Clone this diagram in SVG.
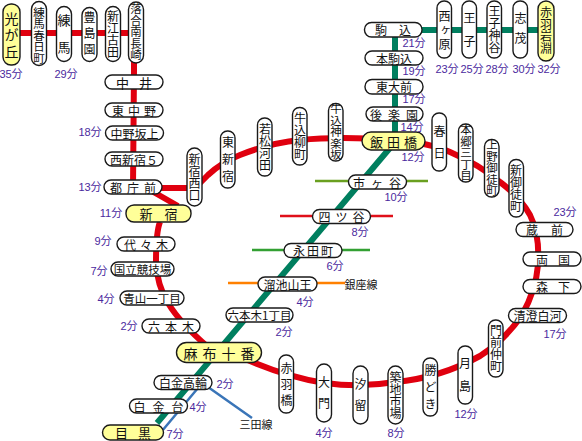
<svg xmlns="http://www.w3.org/2000/svg" width="582" height="441" viewBox="0 0 582 441">
<style>
.p{fill:#fff;stroke:#1a1a1a;stroke-width:1.4}
.y{fill:#ffff99;stroke:#1a1a1a;stroke-width:1.4}
text{font-family:"Noto Sans CJK JP","Liberation Sans",sans-serif;fill:#111;text-anchor:middle;dominant-baseline:central}
.v{writing-mode:vertical-rl;text-orientation:upright;font-size:12px}
.h{font-size:12px}
.t{font-family:"Liberation Sans","Noto Sans CJK JP",sans-serif;font-size:11px;fill:#4b2a9e}
.l{fill:none;stroke-linejoin:round}
</style>
<rect width="582" height="441" fill="#fff"/>
<g id="connectors">
<path class="l" stroke="#e0000f" stroke-width="6" d="M12 33H134V70L133 188H195L208 175Q222 162 240 155Q270 143 300 140Q340 136 395 140Q430 143 450 152Q480 165 500 182Q520 197 530 215Q540 235 538 265Q536 290 522 315Q505 340 480 356Q440 378 395 382Q360 388 325 383Q280 376 230 352M150 190L178 206M160 222Q156 232 156 262Q157 285 168 303Q180 323 208 347"/>
<path class="l" stroke="#007f5f" stroke-width="6" d="M395 30H545M395 30V142L157 423"/>
<path class="l" stroke="#6aa020" stroke-width="2.5" d="M315 181H428"/>
<path class="l" stroke="#e0101a" stroke-width="2.5" d="M280 216H393"/>
<path class="l" stroke="#33a033" stroke-width="2.5" d="M252 250H370"/>
<path class="l" stroke="#ff8000" stroke-width="2.5" d="M228 283H345"/>
<path class="l" stroke="#3a75b8" stroke-width="2.5" d="M198 388L162 431M208 387L252 418"/>
</g>
<g id="n01"><rect class="y" x="3" y="4" width="17" height="61" rx="8"/><text class="v" style="font-size:14px;letter-spacing:2.5px" x="11.5" y="36">光が丘</text></g>
<g id="n02"><rect class="p" x="31.500" y="1.500" width="15" height="64" rx="7.500"/><text class="v" style="font-size:11.500px" x="39" y="35.500">練馬春日町</text></g>
<g id="n03"><rect class="p" x="56.500" y="6.500" width="15" height="55" rx="7.500"/><text class="v" style="font-size:13px;letter-spacing:14px" x="64" y="41">練馬</text></g>
<g id="n04"><rect class="p" x="82" y="7.500" width="15" height="54" rx="7.500"/><text class="v" style="letter-spacing:4px" x="89.500" y="35">豊島園</text></g>
<g id="n05"><rect class="p" x="105.500" y="6.500" width="15" height="55" rx="7.500"/><text class="v" x="113" y="34.500">新江古田</text></g>
<g id="n06"><rect class="p" x="128.500" y="2" width="15" height="61" rx="7.500"/><text class="v" style="font-size:11.500px" x="136" y="32">落合南長崎</text></g>
<g id="n07"><rect class="p" x="105" y="75" width="58" height="14" rx="7"/><text class="h" style="font-size:13px;letter-spacing:10px" x="139" y="82">中井</text></g>
<g id="n08"><rect class="p" x="105" y="103" width="58" height="14" rx="7"/><text class="h" style="letter-spacing:4px" x="136" y="110">東中野</text></g>
<g id="n09"><rect class="p" x="105.500" y="126" width="58" height="14" rx="7"/><text class="h" x="134.500" y="133">中野坂上</text></g>
<g id="n10"><rect class="p" x="105" y="152" width="58" height="14" rx="7"/><text class="h" x="134" y="159">西新宿５</text></g>
<g id="n11"><rect class="p" x="104" y="180" width="58" height="14" rx="7"/><text class="h" style="letter-spacing:5px" x="135.500" y="187">都庁前</text></g>
<g id="n12"><rect class="y" x="126" y="205" width="65" height="17" rx="8"/><text class="h" style="font-size:13px;letter-spacing:12px" x="164.500" y="213.500">新宿</text></g>
<g id="n13"><rect class="p" x="117" y="237" width="58" height="14" rx="7"/><text class="h" style="letter-spacing:4px" x="148" y="244">代々木</text></g>
<g id="n14"><rect class="p" x="111" y="262" width="63" height="14" rx="7"/><text class="h" style="font-size:11.500px" x="142.500" y="269">国立競技場</text></g>
<g id="n15"><rect class="p" x="120" y="291" width="64" height="14" rx="7"/><text class="h" style="font-size:11.500px" x="152" y="298">青山一丁目</text></g>
<g id="n16"><rect class="p" x="142" y="319" width="58" height="14" rx="7"/><text class="h" style="letter-spacing:5px" x="173.500" y="326">六本木</text></g>
<g id="n17"><rect class="y" x="176.500" y="342.500" width="85" height="20" rx="10"/><text class="h" style="font-size:14px;letter-spacing:5px" x="221.500" y="353">麻布十番</text></g>
<g id="n18"><rect class="p" x="154" y="375.500" width="58" height="14" rx="7"/><text class="h" x="183" y="382.500">白金高輪</text></g>
<g id="n19"><rect class="p" x="129.500" y="399" width="58" height="14" rx="7"/><text class="h" style="letter-spacing:7px" x="162" y="406">白金台</text></g>
<g id="n20"><rect class="y" x="102.500" y="425" width="61" height="15" rx="7.500"/><text class="h" style="font-size:13px;letter-spacing:10px" x="138" y="432.500">目黒</text></g>
<g id="n21"><rect class="p" x="226" y="308" width="67" height="14" rx="7"/><text class="h" style="font-size:11.500px" x="259.500" y="315">六本木1丁目</text></g>
<g id="n22"><rect class="p" x="279" y="355" width="14.500" height="58" rx="7"/><text class="v" style="letter-spacing:4px" x="286.500" y="386">赤羽橋</text></g>
<g id="n23"><rect class="p" x="316.500" y="364" width="15" height="58" rx="7.500"/><text class="v" style="letter-spacing:9px" x="324" y="397">大門</text></g>
<g id="n24"><rect class="p" x="353" y="366" width="15" height="58" rx="7.500"/><text class="v" style="letter-spacing:9px" x="360.500" y="399">汐留</text></g>
<g id="n25"><rect class="p" x="388" y="366" width="15" height="58" rx="7.500"/><text class="v" x="395.500" y="395">築地市場</text></g>
<g id="n26"><rect class="p" x="423" y="358" width="14.500" height="58" rx="7"/><text class="v" style="letter-spacing:5px" x="430.500" y="389.500">勝どき</text></g>
<g id="n27"><rect class="p" x="458" y="346" width="14.500" height="58" rx="7"/><text class="v" style="letter-spacing:11px" x="465" y="380.500">月島</text></g>
<g id="n28"><rect class="p" x="488.500" y="320" width="14.500" height="57" rx="7"/><text class="v" x="496" y="348.500">門前仲町</text></g>
<g id="n29"><rect class="p" x="508.500" y="308.500" width="58" height="14" rx="7"/><text class="h" x="537.500" y="315.500">清澄白河</text></g>
<g id="n30"><rect class="p" x="523" y="279.500" width="58" height="14" rx="7"/><text class="h" style="letter-spacing:10px" x="558" y="286.500">森下</text></g>
<g id="n31"><rect class="p" x="523" y="252" width="58" height="14" rx="7"/><text class="h" style="letter-spacing:10px" x="558" y="259">両国</text></g>
<g id="n32"><rect class="p" x="516" y="222.500" width="57" height="14" rx="7"/><text class="h" style="letter-spacing:13px" x="551" y="229.500">蔵前</text></g>
<g id="n33"><rect class="p" x="509" y="159.500" width="14.500" height="57.500" rx="7"/><text class="v" x="516" y="188">新御徒町</text></g>
<g id="n34"><rect class="p" x="484.500" y="139.500" width="14.500" height="57.500" rx="7"/><text class="v" style="font-size:11.500px" x="492" y="168">上野御徒町</text></g>
<g id="n35"><rect class="p" x="458.500" y="124" width="14.500" height="58" rx="7"/><text class="v" style="font-size:11.500px" x="466" y="153">本郷三丁目</text></g>
<g id="n36"><rect class="p" x="432" y="113" width="14.500" height="58" rx="7"/><text class="v" style="letter-spacing:10px" x="439.500" y="147">春日</text></g>
<g id="n37"><rect class="y" x="362" y="132" width="63" height="18" rx="9"/><text class="h" style="font-size:13px;letter-spacing:4px" x="395.500" y="141.500">飯田橋</text></g>
<g id="n38"><rect class="p" x="366" y="107" width="57" height="14" rx="7"/><text class="h" style="letter-spacing:6px" x="397" y="114">後楽園</text></g>
<g id="n39"><rect class="p" x="365" y="79.500" width="58" height="14.500" rx="7"/><text class="h" x="394" y="86.500">東大前</text></g>
<g id="n40"><rect class="p" x="365" y="51" width="58" height="14" rx="7"/><text class="h" x="394" y="58">本駒込</text></g>
<g id="n41"><rect class="p" x="364.500" y="22.500" width="57.500" height="14.500" rx="7"/><text class="h" style="letter-spacing:12px" x="399" y="29.500">駒込</text></g>
<g id="n42"><rect class="p" x="437" y="1" width="14.500" height="57" rx="7"/><text class="v" style="font-size:12px;letter-spacing:2px" x="444.500" y="31">西ヶ原</text></g>
<g id="n43"><rect class="p" x="462" y="1" width="14.500" height="57" rx="7"/><text class="v" style="letter-spacing:11px" x="469.500" y="35">王子</text></g>
<g id="n44"><rect class="p" x="487" y="1" width="14.500" height="57" rx="7"/><text class="v" x="494.500" y="29">王子神谷</text></g>
<g id="n45"><rect class="p" x="513" y="1" width="14.500" height="57" rx="7"/><text class="v" style="letter-spacing:8px" x="520.500" y="32">志茂</text></g>
<g id="n46"><rect class="y" x="538" y="1" width="16" height="60" rx="8"/><text class="v" x="546" y="30">赤羽岩淵</text></g>
<g id="n47"><rect class="p" x="348.500" y="175" width="58" height="14" rx="7"/><text class="h" style="letter-spacing:6px" x="380" y="182">市ヶ谷</text></g>
<g id="n48"><rect class="p" x="312.500" y="209.500" width="58" height="14" rx="7"/><text class="h" style="letter-spacing:5px" x="344" y="216.500">四ツ谷</text></g>
<g id="n49"><rect class="p" x="284" y="243.500" width="58" height="14" rx="7"/><text class="h" style="letter-spacing:2px" x="314" y="250.500">永田町</text></g>
<g id="n50"><rect class="p" x="258" y="277" width="59" height="14" rx="7"/><text class="h" x="287.500" y="284">溜池山王</text></g>
<g id="n51"><rect class="p" x="187" y="148" width="15" height="58" rx="7.500"/><text class="v" x="194.500" y="177">新宿西口</text></g>
<g id="n52"><rect class="p" x="220.500" y="131" width="14.500" height="57" rx="7"/><text class="v" style="letter-spacing:5px" x="228" y="162">東新宿</text></g>
<g id="n53"><rect class="p" x="257.500" y="118" width="14.500" height="58" rx="7"/><text class="v" x="265" y="147">若松河田</text></g>
<g id="n54"><rect class="p" x="292.500" y="107.500" width="14.500" height="57.500" rx="7"/><text class="v" x="300" y="136">牛込柳町</text></g>
<g id="n55"><rect class="p" x="328.500" y="103.500" width="14.500" height="57.500" rx="7"/><text class="v" style="font-size:11.500px" x="336" y="132">牛込神楽坂</text></g>
<g id="times">
<text class="t" x="11" y="74">35分</text><text class="t" x="66" y="74">29分</text><text class="t" x="90" y="132">18分</text><text class="t" x="90" y="187">13分</text><text class="t" x="111" y="213">11分</text><text class="t" x="103" y="241">9分</text><text class="t" x="99" y="271">7分</text><text class="t" x="106" y="299">4分</text><text class="t" x="129" y="326">2分</text>
<text class="t" x="284" y="332">2分</text><text class="t" x="225" y="384">2分</text><text class="t" x="198" y="407">4分</text><text class="t" x="175" y="434">7分</text><text class="t" x="324" y="433">4分</text><text class="t" x="396" y="433">8分</text><text class="t" x="466" y="414">12分</text><text class="t" x="555" y="334">17分</text><text class="t" x="565" y="212">23分</text>
<text class="t" x="414" y="43">21分</text><text class="t" x="414" y="71">19分</text><text class="t" x="414" y="99">17分</text><text class="t" x="412" y="127">14分</text><text class="t" x="413" y="157">12分</text><text class="t" x="396" y="197">10分</text><text class="t" x="360" y="232">8分</text><text class="t" x="335" y="266">6分</text><text class="t" x="305" y="302">4分</text>
<text class="t" x="447" y="69">23分</text><text class="t" x="472" y="69">25分</text><text class="t" x="497" y="69">28分</text><text class="t" x="524" y="69">30分</text><text class="t" x="549" y="69">32分</text>
</g>
<text class="h" style="font-size:11px" x="361" y="284">銀座線</text>
<text class="h" style="font-size:11px" x="256" y="424">三田線</text>
</svg>
